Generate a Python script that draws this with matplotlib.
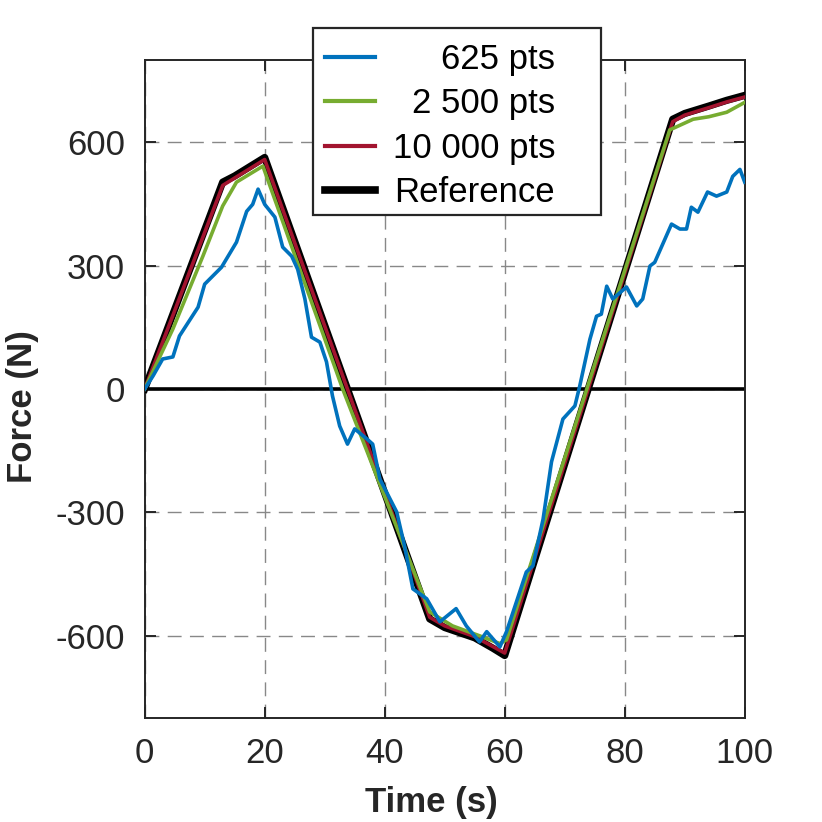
import matplotlib
matplotlib.use("Agg")
import matplotlib.pyplot as plt
from matplotlib.patches import Rectangle
import numpy as np

plt.rcParams['font.family'] = ['Liberation Sans', 'DejaVu Sans']
plt.rcParams['axes.unicode_minus'] = False

# Reference force curve (piecewise)
t_ref = [0, 13, 15, 18, 20, 47.5, 50, 55, 58, 60, 88, 90, 94, 97, 100]
f_ref = [0, 503, 518, 545, 563, -559, -580, -605, -630, -648, 656, 670, 688, 702, 714]

# 10 000 pts (follows the reference very closely)
t_10000 = [0, 13, 15, 18, 20, 47.5, 50, 55, 58, 60, 88, 90, 94, 97, 100]
f_10000 = [0, 495, 513, 540, 558, -555, -576, -602, -626, -642, 650, 666, 684, 698, 710]

# 2 500 pts
t_2500 = [0, 4.7, 9.7, 13, 15.3, 18, 19.7, 33, 47.5, 51.3, 55.8, 59.2, 60.3, 87.5, 91.4, 94, 97, 100]
f_2500 = [0, 146, 323, 445, 503, 527, 542, 0, -542, -576, -600, -619, -610, 630, 656, 662, 673, 697]

# 625 pts
t_625 = [0, 1.4, 3, 4.7, 5.8, 8.9, 10, 12.8, 15.3, 17, 18, 18.9, 20, 21.7, 23, 24.5,
         25.5, 26.7, 27.8, 29.2, 30.3, 31.3, 32.5, 33.8, 35, 37, 38, 39.2, 42, 43.3,
         44.7, 47, 49.2, 51.9, 53.6, 55.8, 57, 59.2, 60.3, 61.4, 63.6, 64.7, 66.4,
         67.8, 69.7, 71.7, 72.5, 74.2, 75.3, 76.1, 77, 78, 80.3, 82, 83, 84.2, 85,
         87.8, 89.2, 90.3, 91.1, 92.2, 93.8, 95.3, 97, 98, 99.2, 100]
f_625 = [0, 32, 73, 78, 129, 199, 255, 296, 357, 432, 449, 486, 449, 418, 345, 323,
         291, 219, 126, 114, 66, -17, -90, -134, -97, -121, -134, -219, -299, -381,
         -486, -510, -566, -534, -576, -615, -590, -627, -590, -542, -445, -430, -316,
         -177, -73, -41, 7, 121, 177, 182, 250, 219, 248, 202, 219, 299, 308,
         401, 389, 389, 442, 430, 479, 469, 479, 517, 534, 503]

labels = ['625 pts', '2 500 pts', '10 000 pts', 'Reference']
colors = ['#0072BD', '#77AC30', '#A2142F', 'black']

fig = plt.figure(figsize=(8.22, 8.22), dpi=100)
ax = fig.add_axes([0.176, 0.1265, 0.730, 0.8005])

ax.axhline(0, color='black', lw=2.6, zorder=2)
h_ref, = ax.plot(t_ref, f_ref, color=colors[3], lw=5.2, zorder=3)
h_10k, = ax.plot(t_10000, f_10000, color=colors[2], lw=2.6, zorder=4)
h_2k5, = ax.plot(t_2500, f_2500, color=colors[1], lw=2.6, zorder=5)
h_625, = ax.plot(t_625, f_625, color=colors[0], lw=2.6, zorder=6)

ax.set_xlim(0, 100)
ax.set_ylim(-800, 800)
ax.set_xticks([0, 20, 40, 60, 80, 100])
ax.set_yticks([-600, -300, 0, 300, 600])
ax.grid(True, color='#888888', linestyle=(0, (10, 6)), lw=1.0)
ax.tick_params(direction='in', length=8, width=1.4, top=True, right=True,
               labelsize=25, colors='#262626', pad=14)
for s in ax.spines.values():
    s.set_color('#262626')
    s.set_linewidth(1.4)

ax.set_xlabel('Time (s)', fontsize=25, fontweight='bold', color='#262626')
ax.set_ylabel('Force (N)', fontsize=25, fontweight='bold', color='#262626')
ax.xaxis.set_label_coords(0.477, -0.103)
ax.yaxis.set_label_coords(-0.176, 0.474)

leg = ax.legend([h_625, h_2k5, h_10k, h_ref], labels, loc='upper left',
                bbox_to_anchor=(325 / 822, 1 - 43 / 822), bbox_transform=fig.transFigure,
                fontsize=25, frameon=False,
                handlelength=1.45, handletextpad=0.5, labelspacing=0.33,
                borderpad=0, borderaxespad=0)
for ln in leg.get_lines():
    ln.set_linewidth(3.0)
leg.get_lines()[3].set_linewidth(5.5)

# right-align legend texts
fig.canvas.draw()
r = fig.canvas.get_renderer()
widths = [t.get_window_extent(r).width for t in leg.get_texts()]
wmax = max(widths)
for t, w in zip(leg.get_texts(), widths):
    t.set_x(wmax - w)

# legend frame, wider on the right like the original
bb = leg.get_window_extent(r)
W, H = fig.bbox.width, fig.bbox.height
x0 = bb.x0 - 12
x1 = bb.x1 + 46
y0 = bb.y0 - 6
y1 = bb.y1 + 15
frame = Rectangle((x0 / W, y0 / H), (x1 - x0) / W, (y1 - y0) / H,
                  transform=fig.transFigure, facecolor='white', edgecolor='#262626',
                  lw=1.6, zorder=9)
fig.add_artist(frame)
leg.remove()
fig.add_artist(leg)
leg.set_zorder(11)

fig.savefig('out.png', dpi=100)
